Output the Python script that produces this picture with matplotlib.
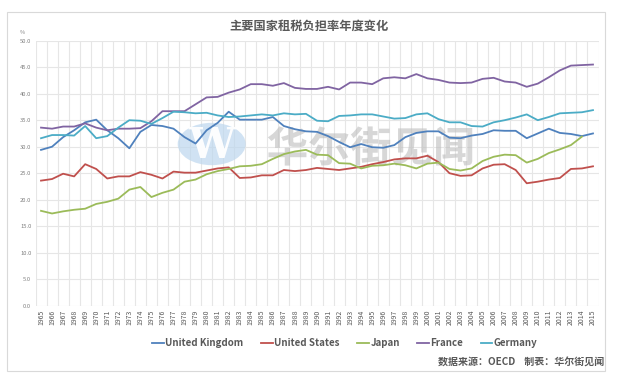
import numpy as np
import matplotlib
matplotlib.use("Agg")
import matplotlib.pyplot as plt
from matplotlib.patches import Circle, Rectangle, PathPatch
from matplotlib.textpath import TextPath
from matplotlib.font_manager import FontProperties
from matplotlib.transforms import Affine2D

plt.rcParams['font.family'] = ['Noto Sans CJK SC', 'DejaVu Sans']

years = list(range(1965, 2016))
uk = [29.4, 30.0, 31.8, 33.1, 34.6, 35.1, 33.1, 31.6, 29.7, 32.8, 34.1, 33.9, 33.4,
      31.8, 30.6, 33.1, 34.5, 36.6, 35.1, 35.1, 35.1, 35.6, 33.9, 33.3, 32.9, 32.8,
      32.0, 30.9, 29.9, 30.5, 29.9, 29.8, 30.3, 31.8, 32.6, 32.9, 32.9, 31.7, 31.6,
      32.1, 32.4, 33.1, 33.0, 33.0, 31.6, 32.5, 33.4, 32.6, 32.4, 32.0, 32.5]
us = [23.6, 23.9, 24.9, 24.4, 26.7, 25.8, 24.0, 24.4, 24.4, 25.2, 24.7, 24.0, 25.3,
      25.1, 25.1, 25.5, 25.9, 26.1, 24.1, 24.2, 24.6, 24.6, 25.6, 25.4, 25.6, 26.0,
      25.8, 25.6, 25.9, 26.2, 26.7, 27.1, 27.6, 27.8, 27.8, 28.3, 27.1, 25.0, 24.5,
      24.6, 25.9, 26.6, 26.7, 25.6, 23.1, 23.4, 23.8, 24.1, 25.8, 25.9, 26.3]
japan = [17.9, 17.4, 17.8, 18.1, 18.3, 19.2, 19.6, 20.2, 21.9, 22.4, 20.5, 21.3, 21.9,
         23.4, 23.8, 24.8, 25.4, 25.8, 26.3, 26.4, 26.7, 27.7, 28.6, 29.1, 29.4, 28.5,
         28.4, 26.9, 26.8, 25.9, 26.4, 26.5, 26.8, 26.5, 25.9, 26.8, 27.0, 25.8, 25.5,
         25.9, 27.3, 28.1, 28.5, 28.4, 27.0, 27.7, 28.8, 29.5, 30.3, 31.9, np.nan]
france = [33.6, 33.4, 33.8, 33.8, 34.4, 33.6, 33.1, 33.4, 33.4, 33.5, 34.8, 36.7, 36.7,
          36.7, 38.0, 39.3, 39.4, 40.2, 40.8, 41.8, 41.8, 41.5, 42.0, 41.1, 40.9, 40.9,
          41.3, 40.8, 42.1, 42.1, 41.8, 42.9, 43.1, 42.9, 43.7, 42.9, 42.6, 42.1, 42.0,
          42.1, 42.8, 43.0, 42.3, 42.1, 41.3, 41.9, 43.1, 44.4, 45.3, 45.4, 45.5]
germany = [31.6, 32.2, 32.2, 32.1, 33.9, 31.6, 32.0, 33.6, 35.0, 34.9, 34.3, 35.4, 36.6,
           36.5, 36.3, 36.4, 35.9, 35.6, 35.7, 35.9, 36.1, 35.9, 36.3, 36.1, 36.2, 34.9,
           34.8, 35.8, 35.9, 36.1, 36.1, 35.7, 35.3, 35.4, 36.1, 36.3, 35.2, 34.6, 34.6,
           33.9, 33.8, 34.6, 35.0, 35.5, 36.1, 35.0, 35.6, 36.3, 36.4, 36.5, 36.9]

series_names = ["United Kingdom", "United States", "Japan", "France", "Germany"]
series_values = [uk, us, japan, france, germany]
colors = ["#4F81BD", "#C0504D", "#9BBB59", "#8064A2", "#4BACC6"]
yticks = [0, 5, 10, 15, 20, 25, 30, 35, 40, 45, 50]

title = "主要国家租税负担率年度变化"
source = "数据来源：OECD    制表：华尔街见闻"
watermark = "华尔街见闻"

W, H = 618, 385
fig = plt.figure(figsize=(W / 100, H / 100), dpi=100)
fig.patch.set_facecolor("white")

# outer frame
fig.patches.append(Rectangle((7 / W, 1 - 371 / H), (605 - 7) / W, (371 - 12) / H,
                             transform=fig.transFigure, fill=False,
                             edgecolor="#D9D9D9", linewidth=0.8))

ax = fig.add_axes([35.5 / W, 1 - 305.7 / H, (598.5 - 35.5) / W, (305.7 - 40.7) / H])
x = np.arange(len(years))
for name, vals, c in zip(series_names, series_values, colors):
    ax.plot(x, vals, color=c, linewidth=1.3, label=name, zorder=3)

ax.set_xlim(-0.5, len(years) - 0.5)
ax.set_ylim(0, 50)
ax.set_yticks(yticks)
ax.set_yticklabels([f"{v:.1f}" for v in yticks], fontsize=4.2, color="#808080")
ax.set_xticks(x)
ax.set_xticklabels([str(y) for y in years], rotation=90, fontsize=5.0, color="#595959")
ax.tick_params(axis="both", which="both", length=0, pad=3)
ax.grid(False)
for v in yticks:
    ax.axhline(v, color="#E6E6E6", linewidth=0.8, zorder=0)
for b in np.arange(-0.5, len(years)):
    ax.axvline(b, color="#E6E6E6", linewidth=0.8, zorder=0)
for s in ax.spines.values():
    s.set_visible(False)

# watermark (behind the lines)
circ = Circle((211.7 / W, 1 - 144 / H), 34 / W, transform=fig.transFigure,
              facecolor="#BDD7EE", edgecolor="none", alpha=0.7, zorder=1)
ax.add_patch(circ)
ax.text(15.45, 30.1, "W", fontsize=30, color="white", ha="center",
        va="center", family="DejaVu Serif", fontweight="bold", alpha=0.95,
        zorder=1.5, clip_on=True)

fp = FontProperties(family="Noto Sans CJK SC", weight="bold")
tp = TextPath((0, 0), watermark, size=30, prop=fp)
ext = tp.get_extents()
cx_px, cy_px = 370, H - 146  # pixel centre (from bottom)
tr = (Affine2D().translate(-(ext.x0 + ext.x1) / 2, -(ext.y0 + ext.y1) / 2)
      .scale(100 / 72).translate(cx_px, cy_px))
wm = PathPatch(tr.transform_path(tp), transform=None, facecolor="#BDBDBD",
               edgecolor="none", alpha=0.6, zorder=1.5)
wm.set_transform(Affine2D())
ax.add_artist(wm)

fig.text(309 / W, 1 - 26 / H, title, fontsize=8.8, color="#595959",
         ha="center", va="center", fontweight="bold")
fig.text(22 / W, 1 - 33 / H, "%", fontsize=4, color="#808080", ha="center", va="center")

leg = fig.legend(loc="center", bbox_to_anchor=(345 / W, 1 - 343 / H), ncol=5,
                 frameon=False, fontsize=7, handlelength=1.2, handletextpad=0.15,
                 columnspacing=1.8)
for t in leg.get_texts():
    t.set_color("#595959")
    t.set_fontweight("bold")

fig.text(604 / W, 1 - 363 / H, source, fontsize=7.2, color="#595959",
         ha="right", va="center", fontweight="bold")

fig.savefig("out.png", dpi=100, facecolor="white")
